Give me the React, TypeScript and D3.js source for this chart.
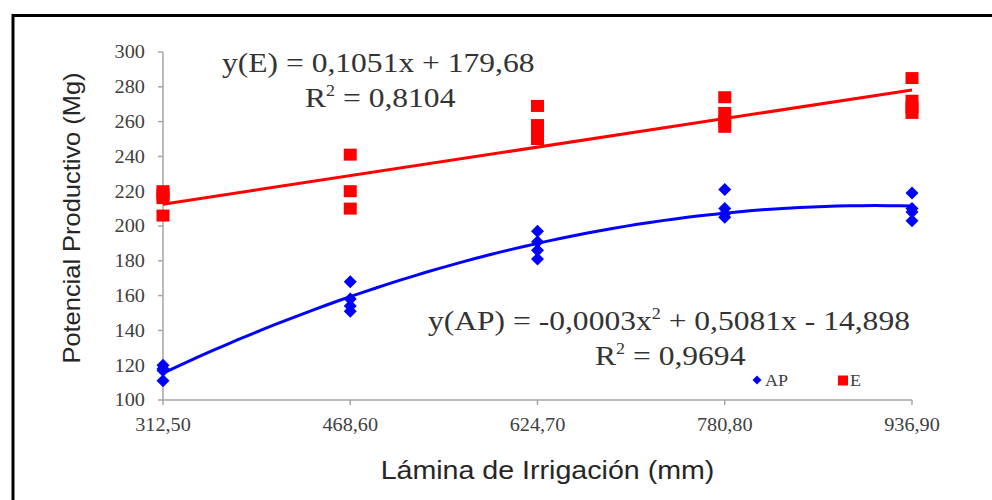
import React from 'react';
import * as d3 from 'd3';

const width = 992;
const height = 500;
const margin = { top: 52, right: 80, bottom: 100, left: 163 };
const red = '#ff0000';
const blue = '#0000ff';
const axisGray = '#a6a6a6';
const textGray = '#404040';
const serif = '"Liberation Serif", "Times New Roman", serif';
const sans = '"Liberation Sans", Arial, sans-serif';
// the source picture is stretched sideways a little
const sx = 1.127;

// irrigation depth (mm) and tick labels
const laminas = [312.5, 468.6, 624.7, 780.8, 936.9];
const laminaLabels = ['312,50', '468,60', '624,70', '780,80', '936,90'];
const yTicks = [100, 120, 140, 160, 180, 200, 220, 240, 260, 280, 300];

// AP replicates per lamina
const apValues = [
  [120, 118, 117, 111],
  [168, 158, 154, 151],
  [197, 191, 186, 181],
  [221, 210, 207, 205],
  [219, 210, 208, 203],
];
// E replicates per lamina
const eValues = [
  [220, 218, 216, 206],
  [241, 220, 210],
  [269, 258, 254, 250],
  [274, 265, 260, 257],
  [285, 272, 268, 265],
];

// printed trendline for E: y = 0,1051x + 179,68
const eIntercept = 179.68;
const eSlope = 0.1051;

const eqE = 'y(E) = 0,1051x + 179,68';
const r2E = '0,8104';
const eqAPa = 'y(AP) = -0,0003x';
const eqAPb = ' + 0,5081x - 14,898';
const r2AP = '0,9694';

// least squares quadratic fit (x centred for stability)
function quadFit(xs: number[], ys: number[]) {
  const mx = d3.mean(xs)!;
  const s = [0, 0, 0, 0, 0];
  const t = [0, 0, 0];
  xs.forEach((x0, i) => {
    const x = x0 - mx;
    for (let p = 0; p < 5; p++) s[p] += Math.pow(x, p);
    for (let p = 0; p < 3; p++) t[p] += ys[i] * Math.pow(x, p);
  });
  const A = [
    [s[0], s[1], s[2], t[0]],
    [s[1], s[2], s[3], t[1]],
    [s[2], s[3], s[4], t[2]],
  ];
  for (let c = 0; c < 3; c++) {
    for (let r = c + 1; r < 3; r++) {
      const f = A[r][c] / A[c][c];
      for (let k = c; k < 4; k++) A[r][k] -= f * A[c][k];
    }
  }
  const b = [0, 0, 0];
  for (let r = 2; r >= 0; r--) {
    let v = A[r][3];
    for (let k = r + 1; k < 3; k++) v -= A[r][k] * b[k];
    b[r] = v / A[r][r];
  }
  return (x: number) => b[0] + b[1] * (x - mx) + b[2] * (x - mx) * (x - mx);
}

const diamondPath = (w: number, h: number) => `M0,${-h}L${w},0L0,${h}L${-w},0Z`;

export default function App() {
  const x = d3.scaleLinear().domain([312.5, 936.9]).range([margin.left, width - margin.right]);
  const y = d3.scaleLinear().domain([100, 300]).range([height - margin.bottom, margin.top]);

  const apX: number[] = [];
  const apY: number[] = [];
  apValues.forEach((vs, i) => vs.forEach(v => { apX.push(laminas[i]); apY.push(v); }));
  const apFn = quadFit(apX, apY);

  const samples = d3.range(0, 61).map(i => 312.5 + (936.9 - 312.5) * i / 60);
  const line = d3.line<number>().x(d => x(d)).y(d => y(apFn(d)));
  const eLine = d3.line<number>().x(d => x(d)).y(d => y(eIntercept + eSlope * d));

  const x0 = margin.left;
  const yBase = height - margin.bottom;

  return (
    <svg width={width} height={height} style={{ position: 'absolute', left: 0, top: 0, background: '#fff' }}>
      <rect x={13} y={15.5} width={1000} height={520} fill="none" stroke="#000" strokeWidth={3} />

      {/* axes */}
      <line x1={x0} x2={x0} y1={y(300)} y2={yBase} stroke={axisGray} strokeWidth={1.5} />
      <line x1={x0} x2={x(936.9)} y1={yBase} y2={yBase} stroke={axisGray} strokeWidth={1.5} />
      {yTicks.map(t => (
        <g key={t}>
          <line x1={x0 - 5} x2={x0} y1={y(t)} y2={y(t)} stroke={axisGray} strokeWidth={1.5} />
          <text transform={`translate(${x0 - 18},${y(t)}) scale(${sx},1)`} dy="0.35em" textAnchor="end" fontFamily={serif} fontSize={18} fill={textGray}>{t}</text>
        </g>
      ))}
      {laminas.map((l, i) => (
        <g key={l}>
          <line x1={x(l)} x2={x(l)} y1={yBase} y2={yBase + 5} stroke={axisGray} strokeWidth={1.5} />
          <text transform={`translate(${x(l)},${yBase + 31}) scale(${sx},1)`} textAnchor="middle" fontFamily={serif} fontSize={18} fill={textGray}>{laminaLabels[i]}</text>
        </g>
      ))}

      {/* trendlines */}
      <path d={eLine([312.5, 936.9]) || ''} fill="none" stroke={red} strokeWidth={3} />
      <path d={line(samples) || ''} fill="none" stroke={blue} strokeWidth={3} />

      {/* points */}
      {eValues.map((vs, i) => vs.map((v, j) => (
        <rect key={`e${i}-${j}`} x={x(laminas[i]) - 6.5} y={y(v) - 6} width={13} height={12} fill={red} />
      )))}
      {apValues.map((vs, i) => vs.map((v, j) => (
        <path key={`a${i}-${j}`} d={diamondPath(6.5, 6.5)} transform={`translate(${x(laminas[i])},${y(v)})`} fill={blue} />
      )))}

      {/* equations */}
      <g fontFamily={serif} fontSize={28} fill="#333">
        <text transform={`translate(222,72) scale(${sx},1)`}>{eqE}</text>
        <text transform={`translate(305,107) scale(${sx},1)`}>
          R<tspan dy={-11} fontSize={16}>2</tspan><tspan dy={11}> = {r2E}</tspan>
        </text>
        <text transform={`translate(428,330) scale(${sx},1)`}>
          {eqAPa}<tspan dy={-11} fontSize={16}>2</tspan><tspan dy={11}>{eqAPb}</tspan>
        </text>
        <text transform={`translate(595,365) scale(${sx},1)`}>
          R<tspan dy={-11} fontSize={16}>2</tspan><tspan dy={11}> = {r2AP}</tspan>
        </text>
      </g>

      {/* legend */}
      <path d={diamondPath(4.5, 4.5)} transform="translate(757,380)" fill={blue} />
      <text transform={`translate(765,386) scale(${sx},1)`} fontFamily={serif} fontSize={16} fill={textGray}>AP</text>
      <rect x={838} y={375.5} width={10} height={10} fill={red} />
      <text transform={`translate(850,386) scale(${sx},1)`} fontFamily={serif} fontSize={16} fill={textGray}>E</text>

      {/* axis titles */}
      <text transform={`translate(80,${(y(300) + yBase) / 2 - 8}) rotate(-90) scale(1.06,1)`} textAnchor="middle" fontFamily={sans} fontSize={24} fill="#262626">Potencial Productivo (Mg)</text>
      <text transform={`translate(${(x0 + x(936.9)) / 2 + 10},479) scale(1.1,1)`} textAnchor="middle" fontFamily={sans} fontSize={26} fill="#262626">Lámina de Irrigación (mm)</text>
    </svg>
  );
}
